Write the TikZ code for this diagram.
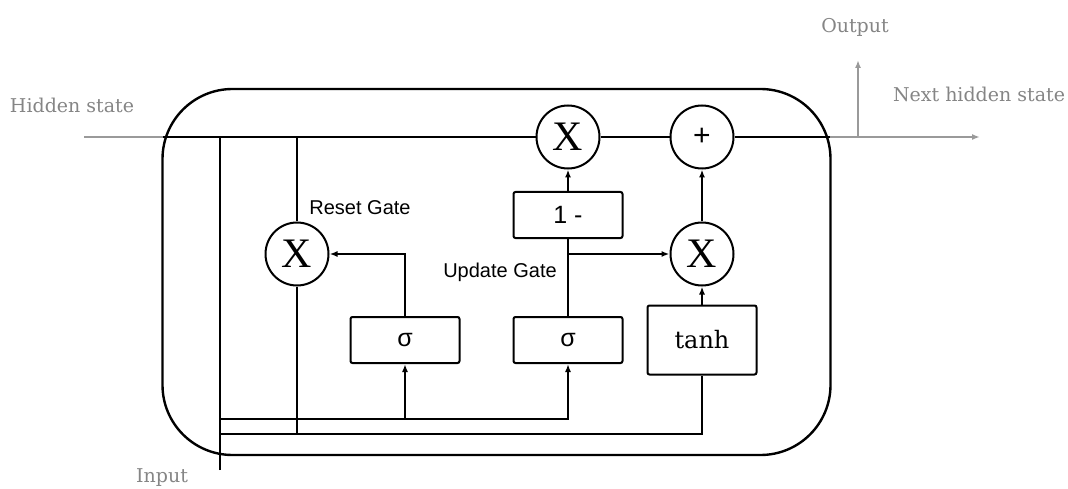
\documentclass[tikz,border=0pt]{standalone}
\usepackage{fontspec}
\setsansfont{Liberation Sans}
\newfontfamily\labelfont{DejaVu Serif}
\newfontfamily\opfont{Liberation Serif}
\usetikzlibrary{arrows.meta}
\definecolor{GrayA}{HTML}{9A9A9A}
\definecolor{GrayT}{HTML}{858585}
\tikzset{
  cellbox/.style={draw, line width=2.4pt, rounded corners=70pt, minimum width=668pt, minimum height=366pt},
  gate/.style={draw, line width=2pt, rounded corners=2pt, minimum width=109pt, minimum height=46pt, inner sep=0pt, font=\sffamily\fontsize{25}{30}\selectfont},
  op/.style={draw, circle, line width=2pt, minimum size=63pt, inner sep=0pt, font=\opfont\fontsize{42}{42}\selectfont},
  wire/.style={line width=2pt},
  arr/.style={-{Latex[length=8pt, width=6pt]}},
  faint/.style={draw=GrayA, line width=2pt},
  lbl/.style={text=GrayT, font=\labelfont\fontsize{19}{22}\selectfont},
  gatelbl/.style={font=\sffamily\fontsize{20}{24}\selectfont}
}
\begin{document}
\begin{tikzpicture}[x=1pt, y=-1pt]
  \useasboundingbox (0,0) rectangle (1068,489);

  % cell and operations
  \node[cellbox] (cell) at (496.5,272) {};
  \node[op] (mulT) at (568,137) {X};
  \node[op, font=\sffamily\fontsize{30}{30}\selectfont] (addT) at (702,137) {+};
  \node[op] (mulR) at (297,254) {X};
  \node[op] (mulU) at (702,254) {X};

  \node[gate] (sigR) at (405,340) {σ};
  \node[gate] (sigU) at (568,340) {σ};
  \node[gate] (oneM) at (568,215) {1 -};
  \node[gate, minimum height=69pt, font=\labelfont\fontsize{24}{28}\selectfont] (tanh) at (702,340) {tanh};

  \node[gatelbl] (resetL) at (360,208) {Reset Gate};
  \node[gatelbl] (updateL) at (500,272) {Update Gate};

  % outside labels
  \node[lbl] (hidL) at (72,105) {Hidden state};
  \node[lbl] (outL) at (855,27) {Output};
  \node[lbl] (nextL) at (979,94) {Next hidden state};
  \node[lbl] (inL) at (162,478) {Input};

  \coordinate (hin) at (84,137);
  \coordinate (eL) at (163,137);
  \coordinate (eR) at (830,137);
  \coordinate (hout) at (980,137);
  \coordinate (oB) at (858,137);
  \coordinate (oTop) at (858,60);
  \coordinate (inB) at (220,470);
  \coordinate (busA) at (220,419);
  \coordinate (busB) at (220,434);

  % hidden state in and out
  \draw[faint] (hin) -- (eL);
  \draw[faint, arr] (eR) -- (hout);
  \draw[faint, arr] (oB) -- (oTop);
  \draw[wire] (eL) -- (mulT) -- (addT) -- (eR);

  % input bus
  \draw[wire] (inB) -- (inB |- eL);
  \draw[wire, arr] (busA) -| (sigU);
  \draw[wire, arr] (sigR |- busA) -- (sigR);
  \draw[wire] (busB) -| (tanh);

  % reset gate
  \draw[wire] (mulR |- eL) -- (mulR);
  \draw[wire] (mulR) -- (mulR |- busB);
  \draw[wire, arr] (sigR) |- (mulR);

  % update gate
  \draw[wire] (sigU) -- (oneM);
  \draw[wire, arr] (oneM) -- (mulT);
  \draw[wire, arr] (oneM.south |- mulU) -- (mulU);
  \draw[wire, arr] (tanh) -- (mulU);
  \draw[wire, arr] (mulU) -- (addT);
\end{tikzpicture}
\end{document}
